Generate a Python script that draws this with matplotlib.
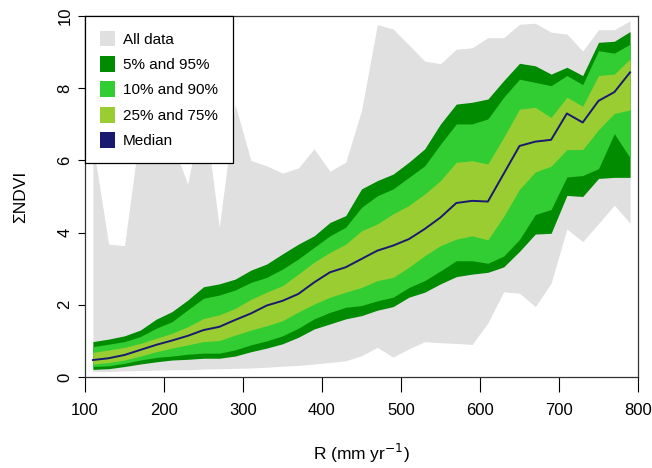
import numpy as np
import matplotlib.pyplot as plt
from matplotlib.patches import Patch

plt.rcParams['font.family'] = ['Liberation Sans', 'DejaVu Sans']

# rainfall bins (mm/yr)
rain = [110, 130, 150, 170, 190, 210, 230, 250, 270, 290, 310, 330,
        350, 370, 390, 410, 430, 450, 470, 490, 510, 530, 550, 570,
        590, 610, 630, 650, 670, 690, 710, 730, 750, 770, 790]

ndvi_min = [0.15, 0.15, 0.17, 0.18, 0.19, 0.20, 0.20, 0.22, 0.23, 0.24, 0.25, 0.27,
            0.30, 0.32, 0.36, 0.40, 0.45, 0.59, 0.82, 0.55, 0.78, 0.98, 0.95, 0.93,
            0.90, 1.50, 2.36, 2.32, 1.95, 2.60, 4.10, 3.75, 4.25, 4.76, 4.26]
ndvi_max = [6.45, 3.68, 3.64, 6.90, 6.60, 6.50, 5.35, 7.50, 4.15, 7.55, 6.00, 5.85,
            5.65, 5.79, 6.32, 5.70, 5.95, 7.38, 9.76, 9.64, 9.20, 8.75, 8.68, 9.08,
            9.12, 9.40, 9.40, 9.77, 9.80, 9.55, 9.50, 9.03, 9.62, 9.62, 9.87]
p05 = [0.21, 0.23, 0.29, 0.36, 0.42, 0.47, 0.49, 0.52, 0.52, 0.58, 0.70, 0.80,
       0.92, 1.10, 1.33, 1.47, 1.61, 1.70, 1.85, 1.95, 2.21, 2.35, 2.58, 2.78,
       2.85, 2.90, 3.05, 3.48, 3.96, 3.98, 5.03, 5.00, 5.50, 5.53, 5.53]
p10 = [0.29, 0.31, 0.38, 0.47, 0.54, 0.58, 0.63, 0.66, 0.66, 0.75, 0.89, 1.00,
       1.14, 1.35, 1.61, 1.79, 1.93, 1.98, 2.11, 2.21, 2.48, 2.67, 2.94, 3.22,
       3.22, 3.15, 3.35, 3.81, 4.50, 4.64, 5.54, 5.58, 5.77, 6.74, 6.07]
p25 = [0.36, 0.40, 0.47, 0.58, 0.70, 0.80, 0.89, 0.98, 1.01, 1.16, 1.30, 1.42,
       1.56, 1.80, 2.02, 2.21, 2.35, 2.48, 2.67, 2.76, 3.04, 3.36, 3.64, 3.82,
       3.91, 3.80, 4.45, 5.20, 5.68, 5.84, 6.30, 6.30, 6.85, 7.30, 7.40]
p50 = [0.47, 0.52, 0.61, 0.75, 0.89, 1.01, 1.14, 1.30, 1.39, 1.58, 1.76, 1.98,
       2.11, 2.30, 2.62, 2.90, 3.04, 3.27, 3.50, 3.64, 3.82, 4.10, 4.42, 4.82,
       4.88, 4.86, 5.63, 6.40, 6.52, 6.57, 7.30, 7.05, 7.65, 7.89, 8.44]
p75 = [0.68, 0.75, 0.82, 0.93, 1.07, 1.21, 1.39, 1.62, 1.72, 1.90, 2.15, 2.35,
       2.53, 2.85, 3.18, 3.45, 3.68, 4.05, 4.24, 4.52, 4.75, 5.07, 5.44, 5.95,
       5.99, 5.90, 6.64, 7.42, 7.47, 7.19, 7.75, 7.50, 8.35, 8.39, 8.81]
p90 = [0.84, 0.91, 0.98, 1.12, 1.35, 1.53, 1.86, 2.18, 2.27, 2.41, 2.62, 2.76,
       2.99, 3.27, 3.59, 3.91, 4.15, 4.70, 5.02, 5.21, 5.53, 5.85, 6.45, 7.01,
       7.01, 7.15, 7.75, 8.25, 8.16, 8.07, 8.35, 8.10, 9.04, 8.97, 9.22]
p95 = [0.98, 1.05, 1.14, 1.30, 1.60, 1.81, 2.13, 2.50, 2.58, 2.71, 2.96, 3.13,
       3.41, 3.68, 3.91, 4.28, 4.47, 5.21, 5.44, 5.62, 5.95, 6.32, 7.01, 7.56,
       7.61, 7.70, 8.21, 8.69, 8.62, 8.39, 8.58, 8.35, 9.27, 9.30, 9.57]

labels = ['All data', '5% and 95%', '10% and 90%', '25% and 75%', 'Median']
colors = ['#e0e0e0', '#008b00', '#32cd32', '#9acd32', '#191970']

fig = plt.figure(figsize=(6.52, 4.68), dpi=100)
ax = fig.add_axes([85/652, 1-377/468, 553/652, 361/468])

ax.fill_between(rain, ndvi_min, ndvi_max, color=colors[0], lw=0)
ax.fill_between(rain, p05, p95, color=colors[1], lw=0)
ax.fill_between(rain, p10, p90, color=colors[2], lw=0)
ax.fill_between(rain, p25, p75, color=colors[3], lw=0)
ax.plot(rain, p50, color=colors[4], lw=1.4)

ax.set_xlim(100, 800)
ax.set_ylim(0, 10)
ax.set_xticks(np.arange(100, 801, 100))
ax.set_yticks(np.arange(0, 11, 2))
ax.tick_params(axis='x', length=11, width=0.8, pad=8, labelsize=12)
ax.tick_params(axis='y', length=5, width=0.8, pad=4, labelsize=12)
for lab in ax.get_yticklabels():
    lab.set_rotation(90)
    lab.set_va('center')
for s in ax.spines.values():
    s.set_linewidth(0.9)
    s.set_color('#333333')

ax.set_xlabel(r'R (mm yr$^{-1}$)', fontsize=12.5, labelpad=17)
ax.set_ylabel('ΣNDVI', fontsize=12.5, labelpad=21)

handles = [Patch(facecolor=c, edgecolor='none') for c in colors]
leg = ax.legend(handles, labels, loc='upper left', bbox_to_anchor=(0, 1),
                borderaxespad=0, fancybox=False, framealpha=1, edgecolor='black',
                fontsize=11, handlelength=1.0, handleheight=1.2,
                handletextpad=0.55, labelspacing=0.62, borderpad=0.95)
leg.get_frame().set_linewidth(0.9)

fig.savefig('out.png', dpi=100)
